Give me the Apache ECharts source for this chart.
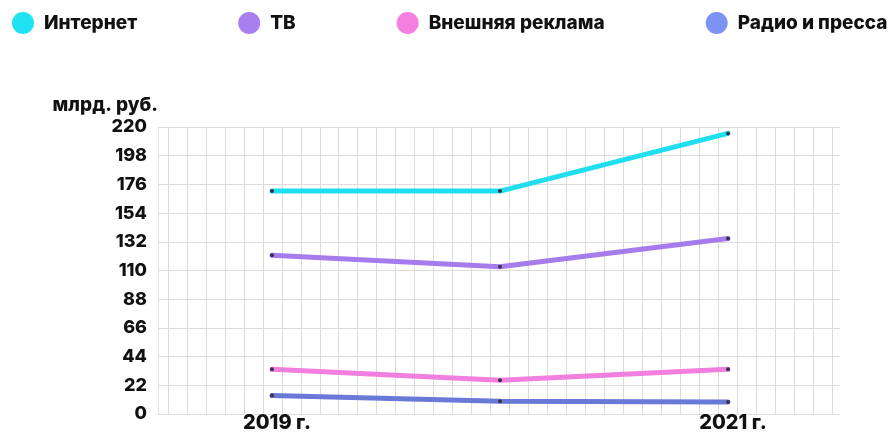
<!DOCTYPE html>
<html>
<head>
<meta charset="utf-8">
<script src="https://cdn.jsdelivr.net/npm/echarts@6/dist/echarts.min.js"></script>
<style>
html,body{margin:0;padding:0;background:#fff;}
#chart{width:889px;height:433px;}
</style>
</head>
<body>
<div id="chart"></div>
<script>
// ---- data ----
var years = ['2019 г.', '2020 г.', '2021 г.'];
var seriesNames = ['Интернет', 'ТВ', 'Внешняя реклама', 'Радио и пресса'];
var internet = [170, 170, 215];
var tv = [120, 111, 133];
var outdoor = [31, 22.5, 31];
var radioPress = [10.5, 6, 5.5];
var yTicks = { min: 0, max: 220, step: 22 };
var yUnit = 'млрд. руб.';

// ---- styles ----
var lineColors = ['#1fdfee', '#a67bec', '#f07fde', '#6b79d6'];
var legendColors = ['#1fe3f3', '#a87ef0', '#f47fe0', '#7d93f4'];
var font = 'Inter';
var textColor = '#111';
var gridColor = '#dcdcdc';

var values = [internet, tv, outdoor, radioPress];

var chart = echarts.init(document.getElementById('chart'), null, { renderer: 'canvas' });

var common = { top: 127, bottom: 19 };

var option = {
  backgroundColor: '#fff',
  animation: false,
  legend: {
    left: 12,
    top: 12,
    width: 1000,
    padding: 0,
    icon: 'circle',
    itemWidth: 22,
    itemHeight: 22,
    itemGap: 101,
    textStyle: { fontFamily: font, fontWeight: 800, fontSize: 19, color: textColor, padding: [0, 0, 0, 5] },
    data: seriesNames.map(function (n, i) { return { name: n, itemStyle: { color: legendColors[i] } }; })
  },
  grid: [
    { left: 158, right: 49, top: common.top, bottom: common.bottom },
    { left: 168, right: 57, top: common.top, bottom: common.bottom },
    { left: 272, right: 161, top: common.top, bottom: common.bottom }
  ],
  xAxis: [
    { gridIndex: 0, type: 'value', min: 0, max: 1, show: false },
    {
      gridIndex: 1, type: 'value', min: 0, max: 35, interval: 1,
      axisLine: { show: false }, axisTick: { show: false }, axisLabel: { show: false },
      splitLine: { show: true, lineStyle: { color: gridColor, width: 1 } }
    },
    {
      gridIndex: 2, type: 'category', boundaryGap: false, data: years,
      axisLine: { show: false }, axisTick: { show: false },
      splitLine: { show: false },
      axisLabel: {
        interval: function (i) { return i !== 1; },
        margin: 4,
        padding: [0, 0, 0, 10],
        fontFamily: font, fontWeight: 800, fontSize: 20, color: textColor
      }
    }
  ],
  yAxis: [
    {
      gridIndex: 0, type: 'value', min: yTicks.min, max: yTicks.max, interval: yTicks.step,
      name: yUnit, nameLocation: 'end', nameGap: 22,
      nameTextStyle: { fontFamily: font, fontWeight: 800, fontSize: 19, color: textColor, align: 'right', verticalAlign: 'middle' },
      axisLine: { show: true, lineStyle: { color: '#e6e6e6' } }, axisTick: { show: false },
      axisLabel: { margin: 11, fontFamily: font, fontWeight: 800, fontSize: 18, color: textColor, padding: [3, 0, 0, 0] },
      splitLine: { show: true, lineStyle: { color: gridColor, width: 1 } }
    },
    { gridIndex: 1, type: 'value', show: false, splitLine: { show: false } },
    { gridIndex: 2, type: 'value', min: yTicks.min, max: yTicks.max, show: false, splitLine: { show: false } }
  ],
  series: seriesNames.map(function (n, i) {
    return {
      name: n,
      type: 'line',
      xAxisIndex: 2,
      yAxisIndex: 2,
      data: values[i],
      symbol: 'circle',
      symbolSize: 4,
      showSymbol: true,
      z: 10 - i,
      itemStyle: { color: '#3a3050', borderWidth: 0 },
      lineStyle: { color: lineColors[i], width: 5, cap: 'round', join: 'round' }
    };
  })
};

chart.setOption(option);
</script>
</body>
</html>
